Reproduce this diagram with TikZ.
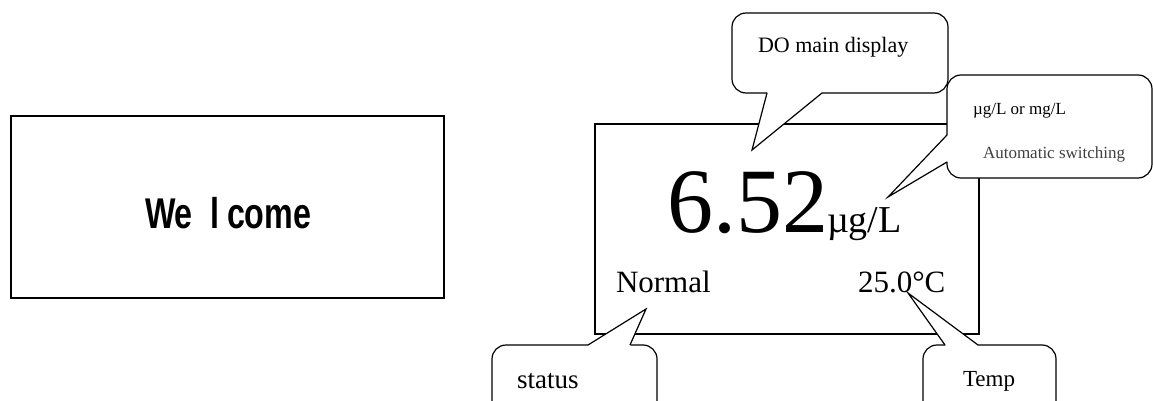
\documentclass[tikz,border=0pt]{standalone}
\usepackage{fontspec}
\usepackage{graphicx}
\setmainfont{Liberation Serif}
\newfontfamily\wfont{Liberation Sans}
\newcommand\wtext[1]{\scalebox{0.75}[1]{\fontsize{43}{43}\selectfont\wfont\bfseries #1}}
\begin{document}
\begin{tikzpicture}[x=1pt,y=-1pt,
  txt/.style={anchor=base west, inner sep=0pt, outer sep=0pt},
  frame/.style={draw=black, line width=1.4pt},
  callout/.style={draw=black, fill=white, line width=1.2pt, rounded corners=14pt},
  pointer/.style={draw=black, line width=1.2pt, line join=miter},
  cover/.style={fill=white}]
\useasboundingbox (0,0) rectangle (1153,401);

% Welcome screen
\draw[frame, line width=1.8pt] (11,116) rectangle (444,298);
\node[txt] (welcome1) at (145,228) {\wtext{We}};
\node[inner sep=0pt, outer sep=0pt, anchor=base] (welcome2) at (215,228) {\wtext{l}};
\node[txt] (welcome3) at (227,228) {\wtext{come}};

% Main display
\draw[frame] (595,124) rectangle (979,334);
\node[txt] (val) at (667,232) {\fontsize{92}{92}\selectfont 6.52};
\node[txt] (unit) at (827,232) {\fontsize{38}{38}\selectfont µg/L};
\node[txt] (normal) at (616,292) {\fontsize{31}{31}\selectfont Normal};
\node[txt] (temp) at (858,292) {\fontsize{31}{31}\selectfont 25.0°C};

% DO main display callout
\draw[callout] (732,13) rectangle (948,93);
\fill[cover] (768,91.5) -- (767,93) -- (752,150) -- (822,93) -- (820.5,91.5) -- cycle;
\draw[pointer] (767,93) -- (752,150) -- (822,93);
\node[txt] (cdo) at (758,53) {\fontsize{22}{22}\selectfont DO main display};

% unit callout
\draw[callout] (947,75) rectangle (1152,178);
\fill[cover] (948.5,136) -- (947,135) -- (888,197) -- (947,162) -- (948.5,161) -- cycle;
\draw[pointer] (947,135) -- (888,197) -- (947,162);
\node[txt] (cu1) at (973,115) {\fontsize{17}{17}\selectfont µg/L or mg/L};
\node[txt, text=black!75] (cu2) at (983,158) {\fontsize{17}{17}\selectfont Automatic switching};

% status callout
\draw[callout] (492,345) rectangle (657,425);
\fill[cover] (589,346.5) -- (588,345) -- (646,309) -- (630,345) -- (631,346.5) -- cycle;
\draw[pointer] (588,345) -- (646,309) -- (630,345);
\node[txt] (cst) at (517,388) {\fontsize{27}{27}\selectfont status};

% Temp callout
\draw[callout] (923,345) rectangle (1056,425);
\fill[cover] (946,346.5) -- (945,345) -- (908,293) -- (978,345) -- (976.5,346.5) -- cycle;
\draw[pointer] (945,345) -- (908,293) -- (978,345);
\node[txt] (ctp) at (963,386) {\fontsize{23}{23}\selectfont Temp};
\end{tikzpicture}
\end{document}
